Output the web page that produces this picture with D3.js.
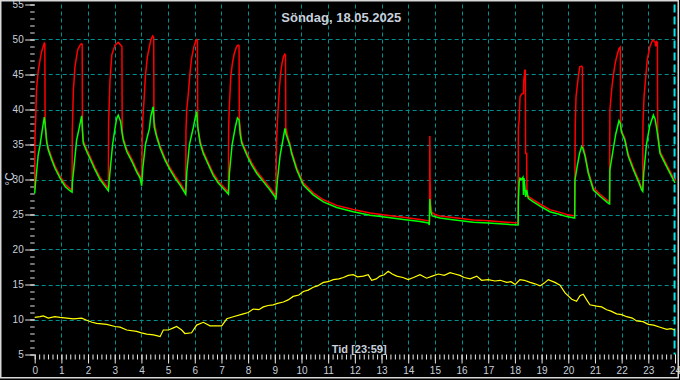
<!DOCTYPE html>
<html><head><meta charset="utf-8">
<script src="https://cdn.jsdelivr.net/npm/d3@7/dist/d3.min.js"></script>
<style>html,body{margin:0;padding:0;background:#000;overflow:hidden}</style>
</head><body>
<svg id="c" width="680" height="380"></svg>
<script>
const titleText = "Söndag, 18.05.2025";
const xTitle = "Tid [23:59]";
const yTitle = "°C";
const xTickValues = d3.range(0, 25);
const xTickLabels = xTickValues.map(String);
const yTickValues = [5, 10, 15, 20, 25, 30, 35, 40, 45, 50, 55];
const yGridValues = [10, 15, 20, 25, 30, 35, 40, 45, 50];
const nowHour = 23 + 59 / 60;

// red series (hours, °C)
const redT = [0.00,0.01,0.04,0.07,0.13,0.20,0.26,0.32,0.36,0.38,0.39,0.45,0.51,0.64,0.76,0.95,1.14,1.32,1.40,
 1.41,1.45,1.51,1.61,1.70,1.75,1.78,1.79,1.82,1.95,2.07,2.26,2.45,2.70,2.76,
 2.77,2.82,2.89,3.01,3.13,3.22,3.27,3.28,3.32,3.45,3.64,3.82,3.95,4.01,
 4.03,4.05,4.10,4.15,4.22,4.30,4.35,4.42,4.46,4.47,4.57,4.70,4.88,5.07,5.26,5.45,5.66,
 5.67,5.70,5.76,5.82,5.88,5.97,6.05,6.07,6.10,6.11,6.20,6.32,6.51,6.69,6.88,7.07,7.26,
 7.27,7.29,7.35,7.41,7.48,7.57,7.63,7.66,7.67,7.76,7.95,8.13,8.32,8.57,8.82,9.01,9.04,
 9.06,9.10,9.13,9.17,9.22,9.27,9.32,9.37,9.40,9.41,9.50,9.57,9.63,9.82,10.07,10.44,10.82,11.32,11.94,12.57,13.19,13.82,14.44,14.78,14.80,
 14.81,14.82,14.84,14.88,15.00,15.19,15.60,16.44,17.00,17.69,18.12,
 18.13,18.16,18.19,18.25,18.32,18.33,18.37,18.39,18.40,18.44,18.45,18.50,18.69,18.94,19.31,19.69,19.94,20.24,
 20.26,20.29,20.37,20.43,20.50,20.53,20.54,20.63,20.75,20.94,21.19,21.44,21.54,
 21.56,21.63,21.69,21.75,21.81,21.90,21.95,21.96,21.99,22.12,22.25,22.44,22.63,22.75,22.79,
 22.80,22.84,22.90,22.96,23.06,23.16,23.25,23.28,23.31,23.34,23.35,23.44,23.69,24.00];
const redV = [28.6,36.0,39.0,43.0,45.4,47.1,48.3,49.0,49.5,49.4,37.8,35.6,34.5,33.1,31.9,30.5,29.3,28.7,28.5,
 37.0,42.8,46.1,48.5,49.2,49.4,49.3,37.2,35.5,34.3,33.3,31.7,30.3,29.0,28.7,
 38.0,44.0,47.8,49.2,49.6,49.2,49.0,37.0,35.9,34.3,32.9,31.4,30.5,29.4,
 36.0,38.5,41.4,44.8,47.4,49.0,49.9,50.5,50.3,38.5,36.4,34.8,33.1,31.7,30.5,29.5,28.2,
 37.0,40.0,42.3,45.2,47.3,49.0,49.9,50.0,49.8,37.5,35.5,34.0,32.4,30.9,29.8,29.0,28.2,
 37.0,40.0,44.7,46.6,48.0,49.0,49.2,49.1,38.5,35.5,33.8,32.4,31.2,30.0,28.8,27.8,27.4,
 35.0,38.5,40.4,43.0,45.2,46.6,47.5,47.9,47.8,37.5,35.9,35.1,34.0,31.7,29.5,28.1,27.1,26.3,25.7,25.2,24.9,24.6,24.3,24.1,23.9,
 36.2,30.0,26.5,25.3,25.0,24.8,24.6,24.2,24.1,23.9,23.8,
 37.5,38.5,41.8,42.2,42.3,44.0,45.6,45.6,33.7,33.7,27.6,27.6,27.1,26.5,25.7,25.3,25.0,24.8,
 37.6,41.8,44.5,46.1,46.2,46.0,34.9,33.6,31.2,28.8,27.9,27.1,26.8,
 39.9,43.0,44.9,46.4,47.5,48.7,48.9,38.5,37.0,35.9,33.6,31.7,30.0,28.8,28.6,
 38.0,41.8,44.5,47.1,49.0,49.9,49.7,49.0,49.7,49.6,37.0,34.0,32.1,29.8];

// green series (hours, °C)
const greenT = [0.00,0.03,0.07,0.13,0.20,0.30,0.36,0.39,0.45,0.51,0.64,0.76,0.95,1.14,1.32,1.40,
 1.41,1.45,1.57,1.68,1.76,1.79,1.82,1.95,2.07,2.26,2.45,2.70,2.76,
 2.82,2.92,3.01,3.07,3.13,3.22,3.28,3.32,3.45,3.64,3.82,3.95,4.01,
 4.05,4.15,4.30,4.35,4.44,4.48,4.57,4.70,4.88,5.07,5.26,5.45,5.66,
 5.70,5.80,5.95,6.01,6.07,6.11,6.20,6.32,6.51,6.69,6.88,7.07,7.26,
 7.30,7.40,7.52,7.60,7.66,7.70,7.76,7.95,8.13,8.32,8.57,8.82,9.01,9.04,
 9.10,9.20,9.32,9.38,9.42,9.50,9.57,9.63,9.82,10.07,10.44,10.82,11.32,11.94,12.57,13.19,13.82,14.44,14.76,14.79,
 14.81,14.84,14.90,15.19,15.60,16.44,17.00,17.69,18.12,
 18.13,18.16,18.19,18.25,18.30,18.32,18.34,18.37,18.40,18.44,18.50,18.69,18.94,19.31,19.69,19.94,20.24,
 20.25,20.33,20.42,20.50,20.54,20.63,20.75,20.94,21.19,21.44,21.54,
 21.55,21.56,21.67,21.78,21.90,21.95,21.99,22.12,22.25,22.44,22.63,22.75,22.79,
 22.80,22.83,22.93,23.05,23.19,23.25,23.30,23.34,23.44,23.69,24.00];
const greenV = [28.0,29.5,31.0,33.5,34.9,37.5,38.9,38.0,35.3,34.2,32.8,31.6,30.2,29.0,28.4,28.2,
 29.5,30.9,35.6,37.6,39.1,37.0,35.2,34.0,33.0,31.4,30.0,28.7,28.4,
 31.0,35.0,37.3,38.7,39.2,38.3,36.5,35.6,34.0,32.6,31.1,30.2,29.1,
 31.5,35.0,37.3,39.0,40.4,37.5,36.1,34.5,32.8,31.4,30.2,29.2,27.9,
 31.0,35.0,37.5,38.7,39.7,37.5,35.2,33.7,32.1,30.6,29.5,28.7,27.9,
 31.0,35.0,37.5,38.8,38.5,36.5,35.2,33.5,32.1,30.9,29.7,28.5,27.5,27.1,
 30.0,33.5,36.0,37.3,36.5,35.6,34.8,33.7,31.4,29.2,27.8,26.8,26.0,25.4,24.9,24.6,24.3,24.0,23.8,23.5,
 27.2,25.5,24.8,24.5,24.3,23.9,23.8,23.6,23.5,
 27.0,29.7,30.2,30.0,30.3,27.8,30.2,29.0,27.5,28.5,27.3,26.8,26.2,25.4,25.0,24.7,24.5,
 29.9,31.8,33.7,34.7,34.5,33.3,30.9,28.5,27.6,26.8,26.5,
 26.5,31.4,34.0,36.5,38.4,38.0,36.8,35.6,33.3,31.4,29.7,28.5,28.3,
 29.0,31.0,35.0,37.6,39.2,38.7,37.6,36.6,33.7,31.8,29.5];

// yellow series (hours, °C)
const yellowT = [0.00,0.20,0.32,0.51,0.75,0.95,1.20,1.45,1.76,1.95,2.15,2.32,2.70,3.01,3.20,3.45,3.82,4.00,4.20,4.45,4.57,4.70,4.82,5.01,5.20,5.32,5.51,5.63,5.88,6.07,6.32,6.57,7.01,7.20,7.44,7.82,8.00,8.19,8.40,8.57,8.75,8.94,9.10,9.32,9.50,9.69,9.90,10.07,10.25,10.44,10.60,10.82,11.00,11.19,11.40,11.57,11.75,11.94,12.10,12.32,12.50,12.63,12.80,12.94,13.10,13.25,13.40,13.57,13.80,14.00,14.20,14.44,14.69,14.90,15.13,15.35,15.57,15.75,15.94,16.10,16.32,16.57,16.75,17.00,17.25,17.45,17.69,17.85,18.01,18.19,18.35,18.57,18.75,18.94,19.10,19.25,19.50,19.69,19.88,20.13,20.31,20.44,20.56,20.69,20.81,21.06,21.25,21.44,21.60,21.81,22.00,22.19,22.40,22.56,22.80,23.00,23.20,23.44,23.69,23.85,24.00];
const yellowV = [10.3,10.4,10.5,10.2,10.4,10.3,10.2,10.1,10.2,9.9,9.6,9.45,9.3,9.0,8.9,8.5,8.3,8.1,7.9,7.8,7.7,7.55,8.5,8.5,8.8,9.0,8.5,8.0,8.1,9.2,9.6,9.1,9.1,10.1,10.4,10.8,11.0,11.5,11.4,11.8,12.0,12.1,12.3,12.5,12.8,13.3,13.5,14.0,14.2,14.6,14.8,15.3,15.4,15.7,15.8,16.0,16.3,16.4,16.1,16.2,16.4,15.6,15.8,16.2,16.4,16.9,16.5,16.2,16.0,15.7,16.0,16.4,15.9,16.2,16.5,16.3,16.7,16.5,16.3,16.0,15.8,16.2,15.6,15.7,15.5,15.6,15.3,15.4,15.0,15.7,15.6,15.3,15.1,14.8,15.2,15.7,15.3,14.9,13.8,12.9,12.6,13.4,13.6,12.8,12.1,11.9,11.8,11.4,11.2,10.8,10.7,10.4,10.2,9.8,9.7,9.3,9.2,8.9,8.6,8.7,8.5];

const W = 680, H = 380;
const svg = d3.select("#c");
const x = d3.scaleLinear().domain([0, 24]).range([34.7, 675]);
const y = d3.scaleLinear().domain([5, 55]).range([354.5, 4.5]);

svg.append("rect").attr("width", W).attr("height", H).attr("fill", "#000");

const grid = svg.append("g").attr("stroke", "#009090").attr("stroke-width", 1).attr("stroke-dasharray", "4,3");
grid.selectAll("line.v").data(xTickValues.filter(d => d > 0 && d < 24)).join("line")
  .attr("x1", d => Math.round(x(d)) + 0.5).attr("x2", d => Math.round(x(d)) + 0.5)
  .attr("y1", y(55)).attr("y2", y(5));
grid.selectAll("line.h").data(yGridValues).join("line")
  .attr("y1", d => Math.round(y(d)) + 0.5).attr("y2", d => Math.round(y(d)) + 0.5)
  .attr("x1", x(0)).attr("x2", x(24));

// current time marker
svg.append("line").attr("x1", x(nowHour)).attr("x2", x(nowHour))
  .attr("y1", y(55)).attr("y2", y(5))
  .attr("stroke", "#00e8e8").attr("stroke-width", 2).attr("stroke-dasharray", "8,4");

// axes
const tickCol = "#e8e8e8", labCol = "#c8d0dc";
const yMinor = svg.append("g").attr("transform", `translate(${x(0)},0)`)
  .call(d3.axisLeft(y).tickValues(d3.range(5, 56)).tickSize(4.5).tickFormat(""));
const yMajor = svg.append("g").attr("transform", `translate(${x(0)},0)`)
  .call(d3.axisLeft(y).tickValues(yTickValues).tickSize(9.5).tickPadding(1.5).tickFormat(d3.format("d")));
const xMinor = svg.append("g").attr("transform", `translate(0,${y(5)})`)
  .call(d3.axisBottom(x).tickValues(d3.range(0, 24 * 6 + 1).map(i => i / 6)).tickSize(5).tickFormat(""));
const xMajor = svg.append("g").attr("transform", `translate(0,${y(5)})`)
  .call(d3.axisBottom(x).tickValues(xTickValues).tickSize(9).tickPadding(3).tickFormat((d, i) => xTickLabels[i]));
[yMinor, yMajor, xMinor, xMajor].forEach(g => {
  g.select(".domain").remove();
  g.selectAll(".tick line").attr("stroke", tickCol);
  g.selectAll(".tick text").attr("fill", labCol).attr("font-family", "Arial, 'Liberation Sans', sans-serif").attr("font-size", 10);
});

// series
const line = d3.line().x(d => x(d[0])).y(d => y(d[1]));
const redData = redT.map((t, i) => [t, redV[i]]);
const greenData = greenT.map((t, i) => [t, greenV[i]]);
const yellowData = yellowT.map((t, i) => [t, yellowV[i]]);
svg.append("path").datum(yellowData).attr("d", line).attr("fill", "none").attr("stroke", "#ffff00").attr("stroke-width", 1.2);
svg.append("path").datum(redData).attr("d", line).attr("fill", "none").attr("stroke", "#ff0000").attr("stroke-width", 1.5);
svg.append("path").datum(greenData).attr("d", line).attr("fill", "none").attr("stroke", "#00ff00").attr("stroke-width", 1.5);

// texts
svg.append("text").attr("x", 341.3).attr("y", 22).attr("text-anchor", "middle")
  .attr("font-family", "Arial, 'Liberation Sans', sans-serif").attr("font-weight", "bold").attr("font-size", 13)
  .attr("fill", labCol).text(titleText);
svg.append("text").attr("x", 359.2).attr("y", 352.5).attr("text-anchor", "middle")
  .attr("font-family", "Arial, 'Liberation Sans', sans-serif").attr("font-weight", "bold").attr("font-size", 11)
  .attr("fill", labCol).text(xTitle);
svg.append("text").attr("transform", "translate(14,179) rotate(-90)").attr("text-anchor", "middle")
  .attr("font-family", "Arial, 'Liberation Sans', sans-serif").attr("font-size", 12)
  .attr("fill", labCol).text(yTitle);

// frame
svg.append("rect").attr("x", 0.75).attr("y", 0.75).attr("width", 677.5).attr("height", 377)
  .attr("fill", "none").attr("stroke", "#d8d8d8").attr("stroke-width", 1.5);
</script>
</body></html>
